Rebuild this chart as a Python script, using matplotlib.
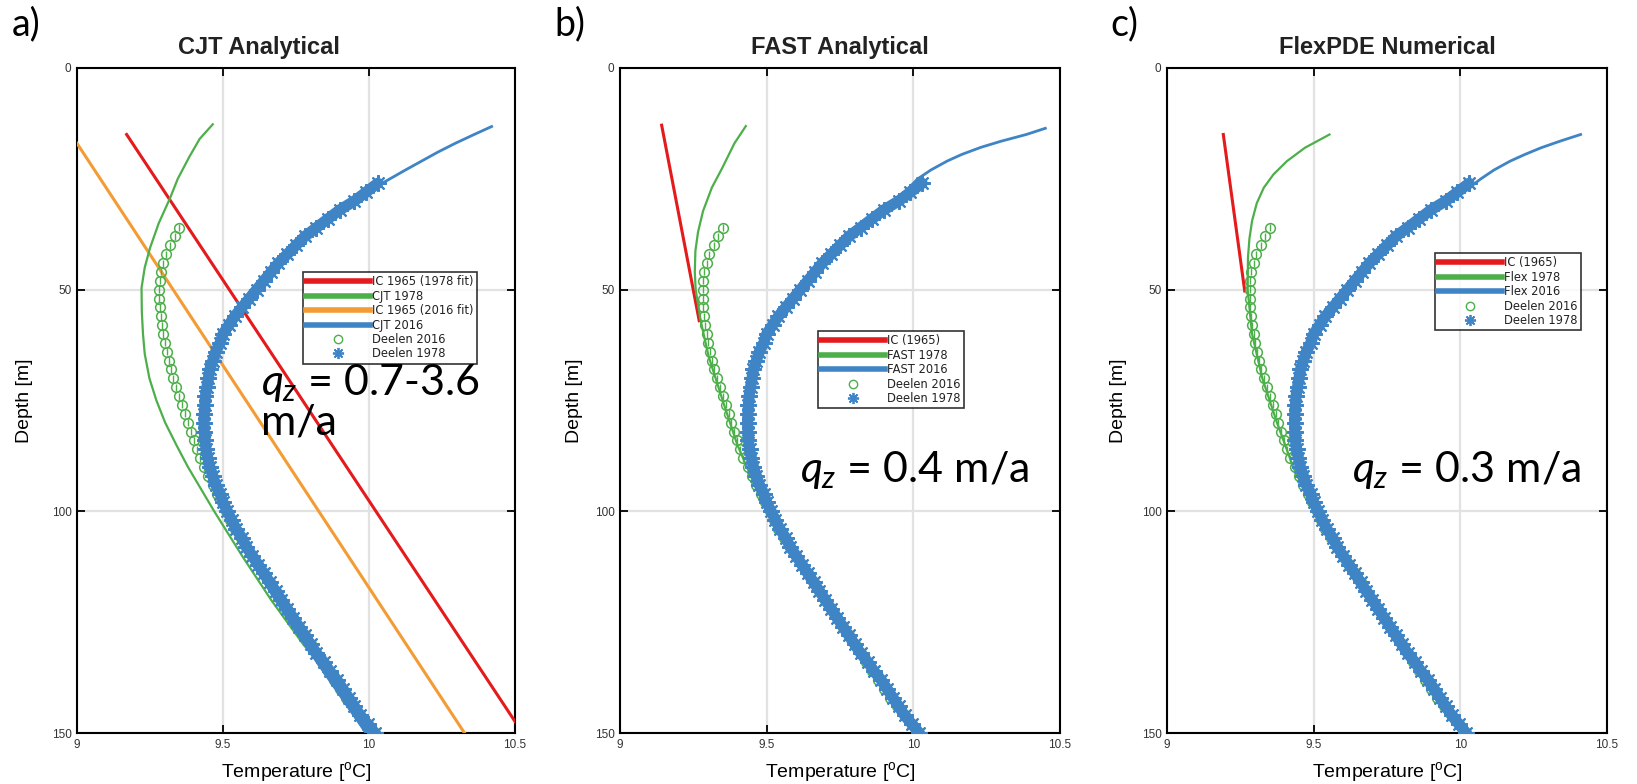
import matplotlib.pyplot as plt
import numpy as np
from matplotlib.lines import Line2D

plt.rcParams['font.family'] = ['Liberation Sans', 'DejaVu Sans']
plt.rcParams['mathtext.fontset'] = 'custom'
plt.rcParams['mathtext.it'] = 'Lato:italic'
plt.rcParams['mathtext.rm'] = 'Lato'

RED = '#e41a1c'
GREEN = '#4daf4a'
ORANGE = '#f39c34'
BLUE = '#3f84c5'

# --- observations, same in every panel ---
# Deelen 1978 (blue asterisks), every 2 m from 26 m
depth_deelen78 = np.arange(26, 151, 2)
temp_deelen78 = [10.03, 9.99, 9.95, 9.90, 9.86, 9.82, 9.78, 9.75, 9.72, 9.69,
                 9.665, 9.64, 9.615, 9.59, 9.565, 9.54, 9.52, 9.50, 9.49, 9.475,
                 9.465, 9.455, 9.45, 9.445, 9.44, 9.438, 9.436, 9.435, 9.436, 9.438,
                 9.442, 9.448, 9.455, 9.465, 9.475, 9.49, 9.50, 9.515, 9.53, 9.545,
                 9.565, 9.58, 9.60, 9.62, 9.64, 9.66, 9.68, 9.70, 9.72, 9.74,
                 9.76, 9.78, 9.80, 9.82, 9.845, 9.865, 9.89, 9.91, 9.93, 9.95,
                 9.97, 9.995, 10.02]
# Deelen 2016 (green circles), every 2 m from 36 m
depth_deelen16 = np.arange(36, 151, 2)
temp_deelen16 = [9.35, 9.335, 9.32, 9.305, 9.295, 9.288, 9.284, 9.282, 9.282, 9.284,
                 9.287, 9.29, 9.295, 9.30, 9.307, 9.315, 9.322, 9.33, 9.34, 9.35,
                 9.36, 9.37, 9.38, 9.39, 9.40, 9.41, 9.42, 9.435, 9.45, 9.465,
                 9.48, 9.495, 9.51, 9.525, 9.54, 9.56, 9.58, 9.60, 9.62, 9.64,
                 9.66, 9.68, 9.70, 9.72, 9.74, 9.76, 9.78, 9.80, 9.82, 9.84,
                 9.86, 9.88, 9.90, 9.92, 9.945, 9.97, 9.995, 10.02]

# --- a) CJT analytical ---
cjt_ic78_T = [9.17, 10.5]
cjt_ic78_d = [15, 147.4]
cjt78_d = [12.7, 16, 20, 25, 29.3, 35, 40.6, 45, 49.6, 55, 60, 64.5, 70, 75, 80,
           85, 90, 95, 100, 110, 120, 130, 140, 150]
cjt78_T = [9.465, 9.42, 9.385, 9.345, 9.319, 9.28, 9.25, 9.232, 9.221, 9.222,
           9.226, 9.232, 9.248, 9.272, 9.302, 9.34, 9.38, 9.425, 9.47, 9.565,
           9.665, 9.775, 9.90, 10.04]
cjt_ic16_T = [9.0, 10.327]
cjt_ic16_d = [17, 150]
cjt16_d = [13.2, 15, 17, 19, 21, 23, 26, 30, 35, 40, 45, 50, 60, 70, 80, 90, 100,
           110, 120, 130, 140, 150]
cjt16_T = [10.42, 10.36, 10.295, 10.235, 10.18, 10.125, 10.045, 9.95, 9.845, 9.75,
           9.67, 9.61, 9.50, 9.445, 9.43, 9.45, 9.505, 9.585, 9.68, 9.78, 9.885, 9.99]

# --- b) FAST analytical ---
fast_ic_T = [9.142, 9.27]
fast_ic_d = [12.9, 57]
fast78_d = [13.1, 17, 22.5, 27, 32.3, 37, 41.3, 46, 50, 57, 65, 75, 85, 95, 105,
            115, 125, 135, 145, 150]
fast78_T = [9.429, 9.39, 9.349, 9.313, 9.283, 9.266, 9.257, 9.255, 9.258, 9.275,
            9.302, 9.35, 9.40, 9.465, 9.54, 9.64, 9.75, 9.85, 9.96, 10.02]
fast16_d = [13.6, 15, 16.5, 17.9, 19.5, 21, 23, 25, 28, 32, 36, 40, 45, 50, 60, 70,
            80, 90, 100, 110, 120, 130, 140, 150]
fast16_T = [10.45, 10.385, 10.30, 10.23, 10.165, 10.115, 10.06, 10.015, 9.97, 9.89,
            9.82, 9.75, 9.675, 9.615, 9.50, 9.45, 9.435, 9.455, 9.515, 9.60,
            9.70, 9.80, 9.91, 10.02]

# --- c) FlexPDE numerical ---
flex_ic_T = [9.192, 9.265]
flex_ic_d = [15, 50.3]
flex78_d = [15, 18, 21, 24, 27, 30.5, 34.5, 38.5, 42.8, 50, 60, 70, 80, 90, 100,
            110, 120, 130, 140, 150]
flex78_T = [9.554, 9.47, 9.409, 9.363, 9.33, 9.306, 9.29, 9.281, 9.276, 9.275,
            9.29, 9.325, 9.375, 9.43, 9.50, 9.59, 9.69, 9.79, 9.89, 10.0]
flex16_d = [15, 16.5, 18, 19.5, 21, 23, 25, 27, 30, 35, 40, 45, 50, 60, 70, 80, 90,
            100, 110, 120, 130, 140, 150]
flex16_T = [10.41, 10.34, 10.275, 10.22, 10.17, 10.115, 10.07, 10.03, 9.96, 9.85,
            9.75, 9.675, 9.615, 9.50, 9.45, 9.435, 9.455, 9.515, 9.60, 9.70,
            9.80, 9.91, 10.02]

W, H = 1637, 784
fig = plt.figure(figsize=(W / 100, H / 100), dpi=100)


def make_axes(left_px, right_px):
    return fig.add_axes([left_px / W, (H - 733) / H, (right_px - left_px) / W, 665 / H])


def obs(ax):
    ax.errorbar(temp_deelen16, depth_deelen16, yerr=0.8, fmt='o', color=GREEN,
                mfc='none', ms=7, mew=1.1, elinewidth=1.0, zorder=4)
    ax.plot(temp_deelen78, depth_deelen78, color=BLUE, lw=8, zorder=5,
            solid_capstyle='round')
    ax.errorbar(temp_deelen78, depth_deelen78, yerr=1.0, fmt='none', color=BLUE,
                elinewidth=1.2, zorder=5)
    ax.plot(temp_deelen78, depth_deelen78, ls='none', marker=(8, 2, 0), ms=12,
            mew=1.5, color=BLUE, zorder=5)


def style(ax, title, title_x, ylab_x):
    ax.set_xlim(9, 10.5)
    ax.set_ylim(150, 0)
    ax.set_xticks([9, 9.5, 10, 10.5])
    ax.set_xticklabels(['9', '9.5', '10', '10.5'])
    ax.set_yticks([0, 50, 100, 150])
    ax.grid(True, color='#e2e2e2', lw=1.6)
    ax.set_axisbelow(True)
    ax.tick_params(direction='in', top=True, right=True, length=6, width=1.3,
                   labelsize=8.5, labelcolor='#333333', pad=4)
    for s in ax.spines.values():
        s.set_linewidth(1.5)
    ax.set_xlabel('Temperature [$\\mathregular{^{o}}$C]', fontsize=14)
    ax.set_ylabel('Depth [m]', fontsize=14)
    ax.xaxis.set_label_coords(0.5, -0.04)
    ax.yaxis.set_label_coords(ylab_x, 0.5)
    ax.set_title(title, fontsize=17, fontweight='bold', color='#222222',
                 x=title_x, pad=10)


def legend(items, x0, y0):
    handles = []
    for lab, kind, col in items:
        if kind == 'line':
            handles.append(Line2D([], [], color=col, lw=4))
        elif kind == 'circ':
            handles.append(Line2D([], [], color=col, ls='none', marker='o',
                                  mfc='none', ms=6, mew=1.0))
        else:
            handles.append(Line2D([], [], color=col, ls='none', marker=(8, 2, 0),
                                  ms=8, mew=1.3))
    labels = [it[0] for it in items]
    leg = fig.legend(handles, labels, loc='upper left',
                     bbox_to_anchor=(x0 / W, 1 - y0 / H),
                     prop={'family': 'DejaVu Sans', 'size': 8.3},
                     frameon=True, fancybox=False, edgecolor='black',
                     handlelength=5.5, labelspacing=0.12, borderpad=0.3,
                     handletextpad=0.2, borderaxespad=0)
    leg.get_frame().set_linewidth(1.2)
    leg.set_zorder(10)
    for t in leg.get_texts():
        t.set_color('#222222')


# panel a
ax1 = make_axes(77, 515)
ax1.plot(cjt_ic78_T, cjt_ic78_d, color=RED, lw=2.2, zorder=3)
ax1.plot(cjt_ic16_T, cjt_ic16_d, color=ORANGE, lw=2.2, zorder=3)
ax1.plot(cjt78_T, cjt78_d, color=GREEN, lw=1.6, zorder=3)
obs(ax1)
ax1.plot(cjt16_T, cjt16_d, color=BLUE, lw=2, zorder=6)
style(ax1, 'CJT Analytical', 0.415, -0.10)
ax1.text(0.42, 0.498, '$q_z$ = 0.7-3.6\nm/a', transform=ax1.transAxes,
         fontsize=31, family='Lato', va='center', ha='left', linespacing=1.0)

# panel b
ax2 = make_axes(620, 1060)
ax2.plot(fast_ic_T, fast_ic_d, color=RED, lw=2.2, zorder=3)
ax2.plot(fast78_T, fast78_d, color=GREEN, lw=1.6, zorder=3)
obs(ax2)
ax2.plot(fast16_T, fast16_d, color=BLUE, lw=2, zorder=6)
style(ax2, 'FAST Analytical', 0.5, -0.085)
ax2.text(0.41, 0.395, '$q_z$ = 0.4 m/a', transform=ax2.transAxes,
         fontsize=31, family='Lato', va='center', ha='left')

# panel c
ax3 = make_axes(1167, 1607)
ax3.plot(flex_ic_T, flex_ic_d, color=RED, lw=2.2, zorder=3)
ax3.plot(flex78_T, flex78_d, color=GREEN, lw=1.6, zorder=3)
obs(ax3)
ax3.plot(flex16_T, flex16_d, color=BLUE, lw=2, zorder=6)
style(ax3, 'FlexPDE Numerical', 0.5, -0.09)
ax3.text(0.42, 0.395, '$q_z$ = 0.3 m/a', transform=ax3.transAxes,
         fontsize=31, family='Lato', va='center', ha='left')

legend([('IC 1965 (1978 fit)', 'line', RED), ('CJT 1978', 'line', GREEN),
        ('IC 1965 (2016 fit)', 'line', ORANGE), ('CJT 2016', 'line', BLUE),
        ('Deelen 2016', 'circ', GREEN), ('Deelen 1978', 'ast', BLUE)],
       303, 272)
legend([('IC (1965)', 'line', RED), ('FAST 1978', 'line', GREEN),
        ('FAST 2016', 'line', BLUE), ('Deelen 2016', 'circ', GREEN),
        ('Deelen 1978', 'ast', BLUE)],
       818, 331)
legend([('IC (1965)', 'line', RED), ('Flex 1978', 'line', GREEN),
        ('Flex 2016', 'line', BLUE), ('Deelen 2016', 'circ', GREEN),
        ('Deelen 1978', 'ast', BLUE)],
       1435, 253)

for lab, xp in [('a)', 12), ('b)', 554), ('c)', 1110)]:
    fig.text(xp / W, 1 - 24 / H, lab, fontsize=27, family='Lato', va='center')

fig.savefig('out.png', dpi=100)
